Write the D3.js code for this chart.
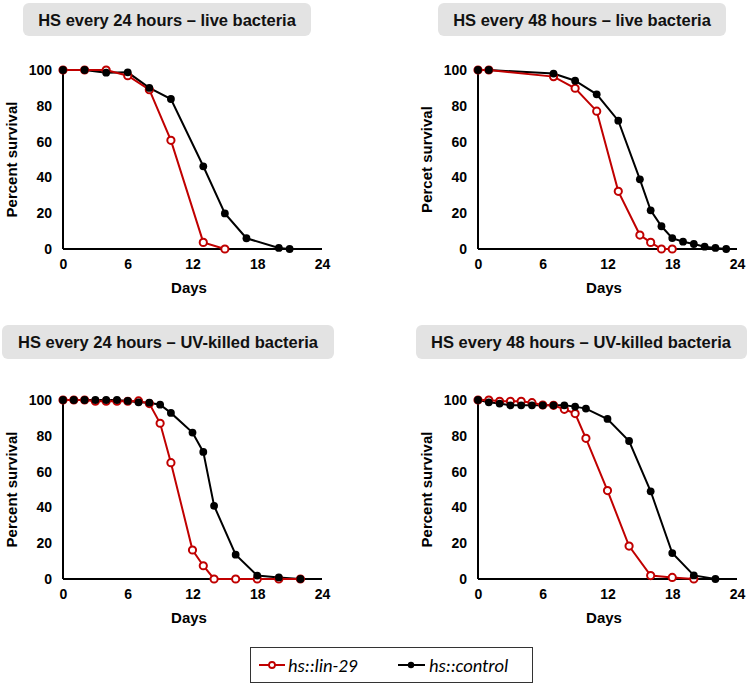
<!DOCTYPE html>
<html><head><meta charset="utf-8">
<script src="https://cdn.jsdelivr.net/npm/d3@7"></script>
<style>body{margin:0;background:#fff}svg{display:block}</style>
</head><body><svg id="c" width="750" height="685"></svg>
<script>
const titles = ["HS every 24 hours \u2013 live bacteria","HS every 48 hours \u2013 live bacteria","HS every 24 hours \u2013 UV-killed bacteria","HS every 48 hours \u2013 UV-killed bacteria"];
const yLabels = ["Percent survival","Percet survival","Percent survival","Percent survival"];
const xLabel = "Days";
const xTicks = [0,6,12,18,24];
const yTicks = [0,20,40,60,80,100];
const seriesNames = ["hs::lin-29","hs::control"];

const p1LinDays = [0,2,4,6,8,10,13,15];
const p1LinVals = [100,100,100,96.8,89,60.7,3.7,0];
const p1CtlDays = [0,2,4,6,8,10,13,15,17,20,21];
const p1CtlVals = [100,100,98.5,98.7,90,83.8,46.2,19.9,6,0.6,0];

const p2LinDays = [0,1,7,9,11,13,15,16,17,18];
const p2LinVals = [100,100,96.3,89.8,77,32.2,7.8,3.7,0,0];
const p2CtlDays = [0,1,7,9,11,13,15,16,17,18,19,20,21,22,23];
const p2CtlVals = [100,100,98,94,86.4,71.7,38.9,21.6,12.7,6.1,4.1,2.8,1.3,0.6,0];

const p3LinDays = [0,1,2,3,4,5,6,7,8,9,10,12,13,14,16,18,20,22];
const p3LinVals = [100,100,100,99.3,99.3,99.3,99.3,99.5,98,87,65,16.2,7.4,0,0,0,0,0];
const p3CtlDays = [0,1,2,3,4,5,6,7,8,9,10,12,13,14,16,18,20,22];
const p3CtlVals = [100,100,100,100,100,100,99.5,98.7,98.5,97.4,92.8,81.8,71,40.9,13.6,1.9,0.9,0];

const p4LinDays = [0,1,2,3,4,5,6,7,8,9,10,12,14,16,18,20];
const p4LinVals = [100,100,99.3,99.3,99.3,98.5,97.2,97,94.8,92.4,78.6,49.4,18.4,1.9,0.9,0];
const p4CtlDays = [0,1,2,3,4,5,6,7,8,9,10,12,14,16,18,20,22];
const p4CtlVals = [100,98.7,98,97,97,97,97,97,97,96.3,95.2,89.4,77.1,49,14.5,2,0];

const panels = [
  {lin:[p1LinDays,p1LinVals], ctl:[p1CtlDays,p1CtlVals], ox:63, top:70, bottom:249, box:[23,3,288,33], titleX:167},
  {lin:[p2LinDays,p2LinVals], ctl:[p2CtlDays,p2CtlVals], ox:478, top:70, bottom:249, box:[438,3,288,33], titleX:582},
  {lin:[p3LinDays,p3LinVals], ctl:[p3CtlDays,p3CtlVals], ox:63, top:400, bottom:579, box:[2,325,332,34], titleX:168},
  {lin:[p4LinDays,p4LinVals], ctl:[p4CtlDays,p4CtlVals], ox:478, top:400, bottom:579, box:[416,325,331,34], titleX:581}
];

const RED = "#c00000", BLK = "#000";
const svg = d3.select("#c");
const font = "'Liberation Sans', Arial, sans-serif";

panels.forEach((p,i)=>{
  const g = svg.append("g");
  g.append("rect").attr("x",p.box[0]).attr("y",p.box[1]).attr("width",p.box[2]).attr("height",p.box[3])
    .attr("rx",6).attr("fill","#e3e3e3");
  g.append("text").attr("x",p.titleX).attr("y",p.box[1]+p.box[3]/2+6)
    .attr("text-anchor","middle").attr("font-family",font).attr("font-weight","bold")
    .attr("font-size","16.5px").attr("fill","#111").text(titles[i]);

  const x = d3.scaleLinear().domain([0,24]).range([p.ox,p.ox+259]);
  const y = d3.scaleLinear().domain([0,100]).range([p.bottom,p.top]);

  const ya = g.append("g").attr("transform",`translate(${p.ox},0)`)
    .call(d3.axisLeft(y).tickValues(yTicks).tickSize(0).tickPadding(11));
  ya.select(".domain").attr("stroke","#000").attr("stroke-width",2).attr("d",`M0,${p.bottom}V${p.top}`);
  const xa = g.append("g").attr("transform",`translate(0,${p.bottom})`)
    .call(d3.axisBottom(x).tickValues(xTicks).tickSize(0).tickPadding(10));
  xa.select(".domain").attr("stroke","#000").attr("stroke-width",2).attr("d",`M${p.ox},0H${p.ox+259}`);
  g.selectAll(".tick text").attr("font-family",font).attr("font-weight","bold").attr("font-size","14px").attr("fill","#000");

  g.append("text").attr("transform",`translate(${p.ox-46},${(p.top+p.bottom)/2}) rotate(-90)`)
    .attr("text-anchor","middle").attr("font-family",font).attr("font-weight","bold")
    .attr("font-size","15px").text(yLabels[i]);
  g.append("text").attr("x",p.ox+126).attr("y",p.bottom+44).attr("text-anchor","middle")
    .attr("font-family",font).attr("font-weight","bold").attr("font-size","15px").text(xLabel);

  const line = d3.line().x(d=>x(d[0])).y(d=>y(d[1]));
  const lin = p.lin[0].map((d,k)=>[d,p.lin[1][k]]);
  const ctl = p.ctl[0].map((d,k)=>[d,p.ctl[1][k]]);
  g.append("path").datum(ctl).attr("d",line).attr("fill","none").attr("stroke",BLK).attr("stroke-width",2);
  g.append("path").datum(lin).attr("d",line).attr("fill","none").attr("stroke",RED).attr("stroke-width",2);
  g.selectAll(".lm").data(lin).enter().append("circle").attr("cx",d=>x(d[0])).attr("cy",d=>y(d[1]))
    .attr("r",3.6).attr("fill","#fff").attr("stroke",RED).attr("stroke-width",2);
  g.selectAll(".cm").data(ctl).enter().append("circle").attr("cx",d=>x(d[0])).attr("cy",d=>y(d[1]))
    .attr("r",3.9).attr("fill",BLK);
});

const lg = svg.append("g");
const lfont = "Carlito, 'Open Sans', 'Noto Sans', sans-serif";
lg.append("rect").attr("x",250.5).attr("y",647.5).attr("width",282).attr("height",35)
  .attr("fill","#fff").attr("stroke","#333").attr("stroke-width",1);
lg.append("line").attr("x1",259).attr("x2",285).attr("y1",665).attr("y2",665).attr("stroke",RED).attr("stroke-width",2);
lg.append("circle").attr("cx",272).attr("cy",665).attr("r",3).attr("fill","#fff").attr("stroke",RED).attr("stroke-width",1.8);
lg.append("text").attr("x",288).attr("y",672).attr("font-family",lfont).attr("font-style","italic")
  .attr("font-size","18.5px").attr("fill","#000").text(seriesNames[0]);
lg.append("line").attr("x1",398).attr("x2",425).attr("y1",665).attr("y2",665).attr("stroke",BLK).attr("stroke-width",2);
lg.append("circle").attr("cx",411).attr("cy",665).attr("r",3.2).attr("fill",BLK);
lg.append("text").attr("x",429).attr("y",672).attr("font-family",lfont).attr("font-style","italic")
  .attr("font-size","18.5px").attr("fill","#000").text(seriesNames[1]);
</script></body></html>
